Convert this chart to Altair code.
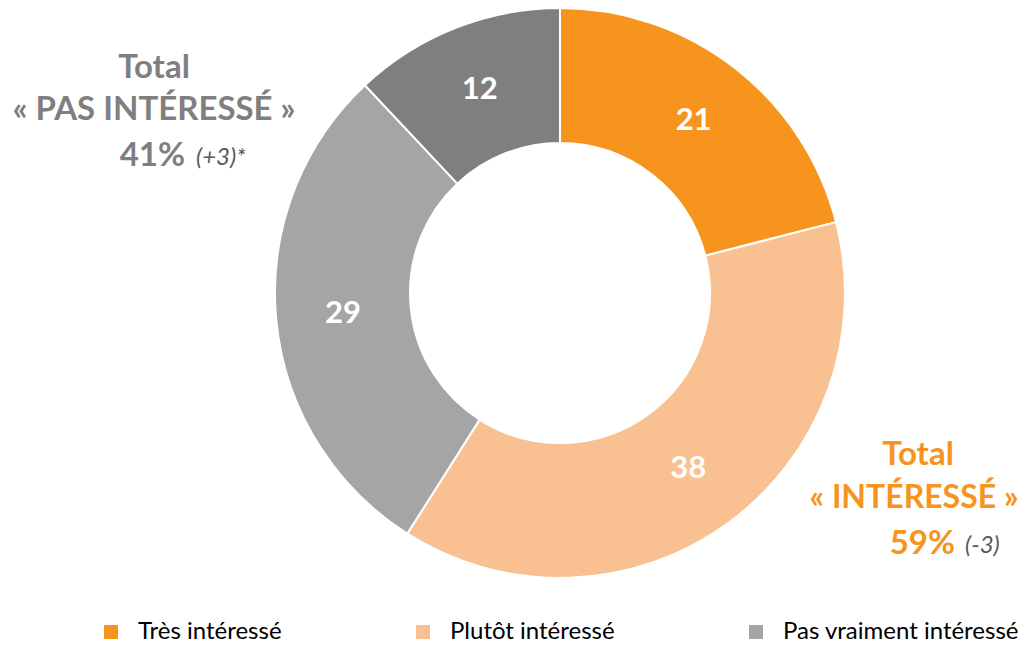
import altair as alt
import pandas as pd

categories = ["Très intéressé", "Plutôt intéressé", "Pas vraiment intéressé", "Pas du tout intéressé"]
values = [21, 38, 29, 12]
colors = ["#F7941D", "#F9C191", "#A5A5A5", "#7F7F7F"]
legend_items = categories[:3]

df = pd.DataFrame({"cat": categories, "val": values, "ord": list(range(len(values)))})

FONT = "Lato"
CX, CY = 552, 285

color = alt.Color(
    "cat:N",
    scale=alt.Scale(domain=categories, range=colors),
    legend=alt.Legend(
        title=None, orient="none", direction="horizontal", legendX=91, legendY=612,
        values=legend_items, symbolType="square", symbolSize=196, symbolStrokeWidth=0,
        labelFont=FONT, labelFontSize=24, labelColor="#000000", columnPadding=129,
        labelOffset=15, labelLimit=500,
    ),
)

base = alt.Chart(df).encode(
    theta=alt.Theta("val:Q", stack=True),
    order=alt.Order("ord:Q"),
)

arcs = base.mark_arc(outerRadius=285, innerRadius=150, stroke="white", strokeWidth=2).encode(
    color=color, x=alt.value(CX), y=alt.value(CY)
)

labels = base.mark_text(radius=218, font=FONT, fontSize=31, fontWeight="bold", color="white").encode(
    text=alt.Text("val:Q"), x=alt.value(CX), y=alt.value(CY)
)

# annotations
grey_lines = ["Total", "« PAS INTÉRESSÉ »"]
orange_lines = ["Total", "« INTÉRESSÉ »"]
grey_total = ["41%"]
grey_delta = ["(+3)*"]
orange_total = ["59%"]
orange_delta = ["(-3)"]

def txt(s, x, y, col, size=33, weight="bold", style="normal", align="center"):
    return alt.Chart(pd.DataFrame({"t": [s]})).mark_text(
        font=FONT, fontSize=size, fontWeight=weight, fontStyle=style, color=col, align=align, baseline="middle"
    ).encode(text="t:N", x=alt.value(x), y=alt.value(y))

ann = [
    txt(grey_lines[0], 146, 60, "#7F7F7F"),
    txt(grey_lines[1], 146, 102, "#7F7F7F"),
    txt(grey_total[0], 177, 148, "#7F7F7F", align="right"),
    txt(grey_delta[0], 188, 150, "#595959", size=24, weight="normal", style="italic", align="left"),
    txt(orange_lines[0], 910, 447, "#F7941D"),
    txt(orange_lines[1], 906, 490, "#F7941D", size=32),
    txt(orange_total[0], 947, 536, "#F7941D", align="right"),
    txt(orange_delta[0], 957, 538, "#595959", size=24, weight="normal", style="italic", align="left"),
]

chart = alt.layer(arcs, labels, *ann).properties(
    width=1016, height=637, padding=0, autosize="none"
).configure_view(stroke=None)

chart.save("out.html", embed_options={"renderer": "svg", "actions": False})
